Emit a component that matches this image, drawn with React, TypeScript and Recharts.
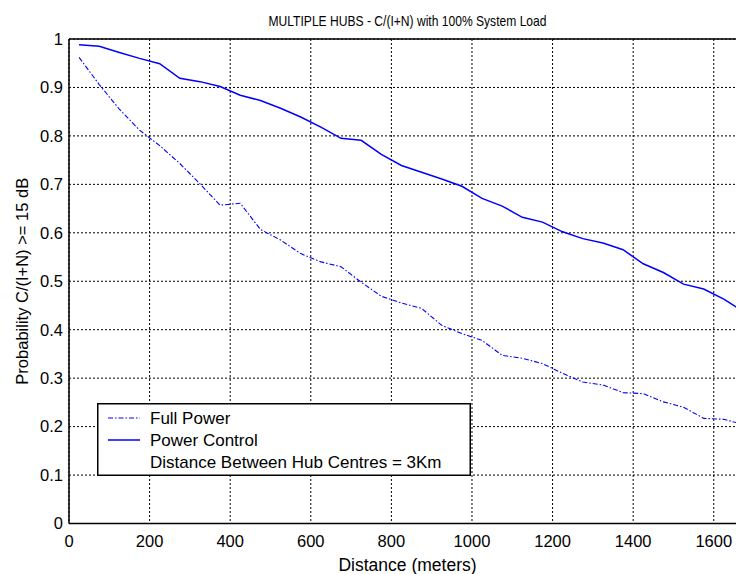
import { CartesianGrid, Label, Line, LineChart, ReferenceLine, XAxis, YAxis } from "recharts"

const FONT = "'Liberation Sans', Arial, Helvetica, sans-serif"
const BLUE = "#0000ff"

// distance in meters, sampled every 50 m
const distances = [
	25, 75, 125, 175, 225, 275, 325, 375, 425, 475, 525, 575, 625, 675, 725, 775, 825,
	875, 925, 975, 1025, 1075, 1125, 1175, 1225, 1275, 1325, 1375, 1425, 1475, 1525,
	1575, 1625, 1675,
]

const fullPower = [
	0.962, 0.906, 0.855, 0.812, 0.78, 0.743, 0.701, 0.657, 0.661, 0.607, 0.585, 0.557,
	0.54, 0.53, 0.498, 0.469, 0.455, 0.444, 0.409, 0.392, 0.378, 0.347, 0.341, 0.33,
	0.31, 0.292, 0.286, 0.27, 0.268, 0.251, 0.24, 0.217, 0.215, 0.204,
]

const powerControl = [
	0.988, 0.985, 0.972, 0.96, 0.949, 0.919, 0.912, 0.902, 0.884, 0.873, 0.857, 0.839,
	0.818, 0.795, 0.791, 0.762, 0.739, 0.725, 0.711, 0.696, 0.671, 0.655, 0.632, 0.622,
	0.602, 0.588, 0.579, 0.565, 0.536, 0.518, 0.494, 0.484, 0.463, 0.437,
]

const xTicks = [0, 200, 400, 600, 800, 1000, 1200, 1400, 1600]
const yTicks = [0, 0.1, 0.2, 0.3, 0.4, 0.5, 0.6, 0.7, 0.8, 0.9, 1]

const series = [
	{ key: "full", name: "Full Power", values: fullPower, dash: "5 2 1.5 2", width: 1.1 },
	{ key: "pc", name: "Power Control", values: powerControl, dash: undefined, width: 1.5 },
]
const title = "MULTIPLE HUBS - C/(I+N) with 100% System Load"
const legendNote = "Distance Between Hub Centres = 3Km"

const data = distances.map((d, i) => {
	const row: Record<string, number> = { d }
	series.forEach((s) => (row[s.key] = s.values[i]))
	return row
})

const fmtY = (v: number) => (v === 0 || v === 1 ? String(v) : v.toFixed(1))

const LEGEND_W = 374
const LEGEND_H = 73
const ROW_H = 22
const LEGEND_FS = 17

// matlab-style legend box; drawn as an overlay so recharts doesn't shrink the plot for it
function LegendBox() {
	return (
		<svg width={LEGEND_W} height={LEGEND_H} style={{ display: "block" }}>
			<rect x={0.75} y={0.75} width={LEGEND_W - 1.5} height={LEGEND_H - 1.5} fill="#fff" stroke="#000" strokeWidth={1.5} />
			{series.map((s, i) => (
				<g key={s.key}>
					<line
						x1={11}
						x2={43}
						y1={15 + i * ROW_H}
						y2={15 + i * ROW_H}
						stroke={BLUE}
						strokeWidth={s.width}
						strokeDasharray={s.dash}
					/>
					<text x={53} y={15 + i * ROW_H} dominantBaseline="central" fontSize={LEGEND_FS} fontFamily={FONT} fill="#000">
						{s.name}
					</text>
				</g>
			))}
			<text x={53} y={15 + 2 * ROW_H} dominantBaseline="central" fontSize={LEGEND_FS} fontFamily={FONT} fill="#000">
				{legendNote}
			</text>
		</svg>
	)
}

export default function App() {
	return (
		<div style={{ position: "relative", width: 736, height: 566, overflow: "hidden", fontFamily: FONT }}>
			{/* title is condensed in the original print, so squeeze it to its measured width */}
			<svg width={736} height={30} style={{ position: "absolute", left: 0, top: 0, zIndex: 2 }}>
				<text
					x={399.5}
					y={12}
					textAnchor="middle"
					dominantBaseline="central"
					fontSize={15}
					fontFamily={FONT}
					textLength={278}
					lengthAdjust="spacingAndGlyphs"
					fill="#000"
				>
					{title}
				</text>
			</svg>
			<LineChart width={738} height={566} data={data} margin={{ top: 31, right: 0, bottom: 0, left: 0 }}>
				<CartesianGrid stroke="#000" strokeDasharray="2 2" strokeWidth={1} />
				<XAxis
					dataKey="d"
					type="number"
					domain={[0, 1680]}
					ticks={xTicks}
					allowDataOverflow
					height={50.5}
					tickLine={false}
					tickSize={0}
					tickMargin={12}
					axisLine={{ stroke: "#000", strokeWidth: 1.5 }}
					tick={{ fill: "#000", fontSize: 16.5, fontFamily: FONT }}
				>
					<Label
						content={({ viewBox }: any) => (
							<text
								x={viewBox.x + viewBox.width / 2}
								y={viewBox.y + 41.5}
								textAnchor="middle"
								dominantBaseline="central"
								fontSize={17.5}
								fontFamily={FONT}
								fill="#000"
							>
								Distance (meters)
							</text>
						)}
					/>
				</XAxis>
				<YAxis
					type="number"
					domain={[0, 1]}
					ticks={yTicks}
					width={61}
					tickFormatter={fmtY}
					tickLine={false}
					tickSize={0}
					tickMargin={6}
					axisLine={{ stroke: "#000", strokeWidth: 1.5 }}
					tick={{ fill: "#000", fontSize: 16.5, fontFamily: FONT }}
				>
					<Label
						content={({ viewBox }: any) => {
							const cx = 13.7
							const cy = viewBox.y + viewBox.height / 2
							return (
								<text
									x={cx}
									y={cy}
									transform={`rotate(-90, ${cx}, ${cy})`}
									textAnchor="middle"
									dominantBaseline="central"
									fontSize={16.5}
									fontFamily={FONT}
									fill="#000"
								>
									Probability C/(I+N) &gt;= 15 dB
								</text>
							)
						}}
					/>
				</YAxis>
				<ReferenceLine y={1} stroke="#000" strokeWidth={1.5} />
				{series.map((s) => (
					<Line
						key={s.key}
						dataKey={s.key}
						name={s.name}
						type="linear"
						stroke={BLUE}
						strokeWidth={s.width}
						strokeDasharray={s.dash}
						dot={false}
						activeDot={false}
						isAnimationActive={false}
					/>
				))}
			</LineChart>
			<div style={{ position: "absolute", left: 89, top: 395, zIndex: 2 }}>
				<LegendBox />
			</div>
		</div>
	)
}
